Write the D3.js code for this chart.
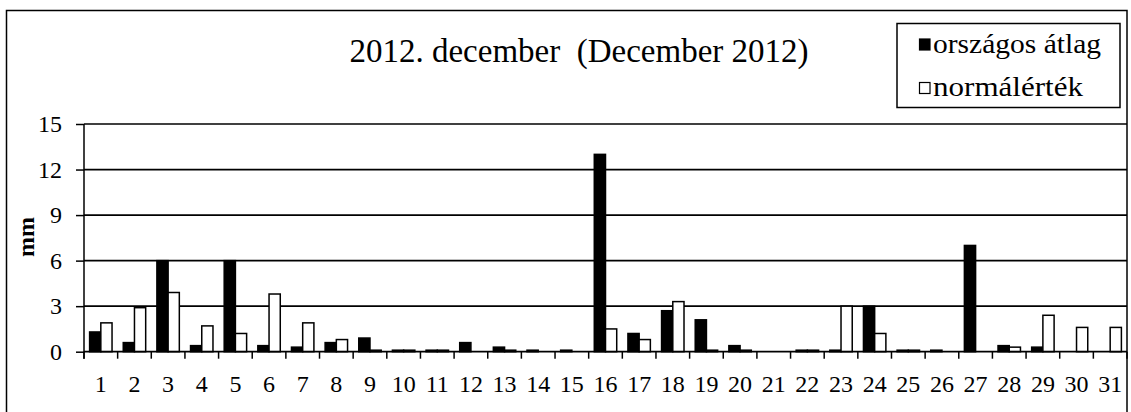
<!DOCTYPE html>
<html>
<head>
<meta charset="utf-8">
<script src="https://cdn.jsdelivr.net/npm/d3@7"></script>
<style>
  html, body { margin: 0; padding: 0; background: #fff; }
  svg { display: block; }
  svg text { font-family: "Liberation Serif", "Times New Roman", serif; fill: #000; }
</style>
</head>
<body>
<svg id="chart" width="1131" height="412"></svg>
<script>
const days = d3.range(1, 32).map(String);
const orszagosAtlag = [1.3, 0.6, 6.0, 0.4, 6.0, 0.4, 0.3, 0.6, 0.9, 0.1, 0.1, 0.6, 0.3, 0.1, 0.1, 13.0, 1.2, 2.7, 2.1, 0.4, 0, 0.1, 0.1, 3.0, 0.1, 0.1, 7.0, 0.4, 0.3, 0, 0];
const normalErtek   = [1.9, 2.9, 3.9, 1.7, 1.2, 3.8, 1.9, 0.8, 0.1, 0.1, 0.1, 0, 0.1, 0, 0, 1.5, 0.8, 3.3, 0.1, 0.1, 0, 0.1, 3.0, 1.2, 0.1, 0, 0, 0.3, 2.4, 1.6, 1.6];
const yTicks = [0, 3, 6, 9, 12, 15];
const seriesNames = ["országos átlag", "normálérték"];
const seriesFill = ["#000000", "#ffffff"];
const titleText = "2012. december\u00a0\u00a0(December 2012)";
const yLabel = "mm";

const FONT = "'Liberation Serif', 'Times New Roman', serif";
const svg = d3.select("#chart");
const pL = 84, pR = 1127, pT = 124, pB = 351.7;

// outer border
svg.append("rect").attr("x", 6.5).attr("y", 10.5).attr("width", 1120.5).attr("height", 420)
  .attr("fill", "none").attr("stroke", "#000").attr("stroke-width", 1.5);

const x = d3.scaleBand().domain(days).range([pL, pR]).paddingInner(0).paddingOuter(0);
const xs = d3.scaleBand().domain([0, 1]).range([0, x.bandwidth()]).paddingInner(0).paddingOuter(0.5);
const y = d3.scaleLinear().domain([0, 15]).range([pB, pT]);

// gridlines
svg.append("g").selectAll("line").data(yTicks.filter(d => d > 0)).join("line")
  .attr("x1", pL).attr("x2", pR)
  .attr("y1", d => y(d)).attr("y2", d => y(d))
  .attr("stroke", "#000").attr("stroke-width", 1.7);

// bars
const data = days.map((d, i) => [orszagosAtlag[i], normalErtek[i]]);
const groups = svg.append("g").selectAll("g").data(data).join("g")
  .attr("transform", (d, i) => `translate(${x(days[i])},0)`);
groups.selectAll("rect").data(d => d.map((v, k) => ({v, k}))).join("rect")
  .attr("x", d => xs(d.k))
  .attr("width", xs.bandwidth())
  .attr("y", d => y(d.v))
  .attr("height", d => y(0) - y(d.v))
  .attr("fill", d => seriesFill[d.k])
  .attr("stroke", "#000").attr("stroke-width", 1.5);

// y axis
const yAxis = d3.axisLeft(y).tickValues(yTicks).tickSize(8).tickPadding(14).tickFormat(d3.format("d"));
const ga = svg.append("g").attr("transform", `translate(${pL},0)`).call(yAxis)
  .attr("font-family", FONT).attr("font-size", 24);
ga.select(".domain").remove();
ga.append("line").attr("x1", 0).attr("x2", 0).attr("y1", pT).attr("y2", pB + 7)
  .attr("stroke", "#000").attr("stroke-width", 1.5);
ga.selectAll(".tick line").attr("stroke", "#000").attr("stroke-width", 1.5);
ga.selectAll(".tick text").style("font-family", FONT).style("font-size", "24px");

// x axis
const xAxis = d3.axisBottom(x).tickSize(0).tickPadding(0);
const gx = svg.append("g").attr("transform", `translate(0,${pB})`).call(xAxis)
  .attr("font-family", FONT).attr("font-size", 24);
gx.select(".domain").remove();
gx.append("line").attr("x1", pL).attr("x2", pR).attr("y1", 0).attr("y2", 0)
  .attr("stroke", "#000").attr("stroke-width", 1.7);
gx.selectAll(".tick text").attr("dy", null).attr("y", 40)
  .style("font-family", FONT).style("font-size", "24px");
// boundary ticks
gx.append("g").selectAll("line").data(days.concat(["end"])).join("line")
  .attr("x1", (d, i) => i < days.length ? x(d) : pR)
  .attr("x2", (d, i) => i < days.length ? x(d) : pR)
  .attr("y1", 0).attr("y2", 7)
  .attr("stroke", "#000").attr("stroke-width", 1.5);

// y label
svg.append("text").attr("transform", "translate(34,237) rotate(-90)")
  .attr("text-anchor", "middle").style("font-family", FONT).style("font-size", "24px").attr("font-weight", "bold")
  .text(yLabel);

// title
svg.append("text").attr("x", 579).attr("y", 62).attr("text-anchor", "middle")
  .style("font-family", FONT).style("font-size", "33px").text(titleText);

// legend
const lg = svg.append("g");
lg.append("rect").attr("x", 897).attr("y", 23.5).attr("width", 223).attr("height", 84)
  .attr("fill", "#fff").attr("stroke", "#000").attr("stroke-width", 1.5);
const legendY = [44.5, 88];
const legendLen = [168, 150];
seriesNames.forEach((name, i) => {
  lg.append("rect").attr("x", 919.5).attr("y", legendY[i] - 5.5).attr("width", 10.5).attr("height", 11)
    .attr("fill", seriesFill[i]).attr("stroke", "#000").attr("stroke-width", 1.2);
  lg.append("text").attr("x", 933).attr("y", legendY[i] + 8)
    .attr("textLength", legendLen[i]).attr("lengthAdjust", "spacingAndGlyphs")
    .style("font-family", FONT).style("font-size", "27px").text(name);
});
</script>
</body>
</html>
